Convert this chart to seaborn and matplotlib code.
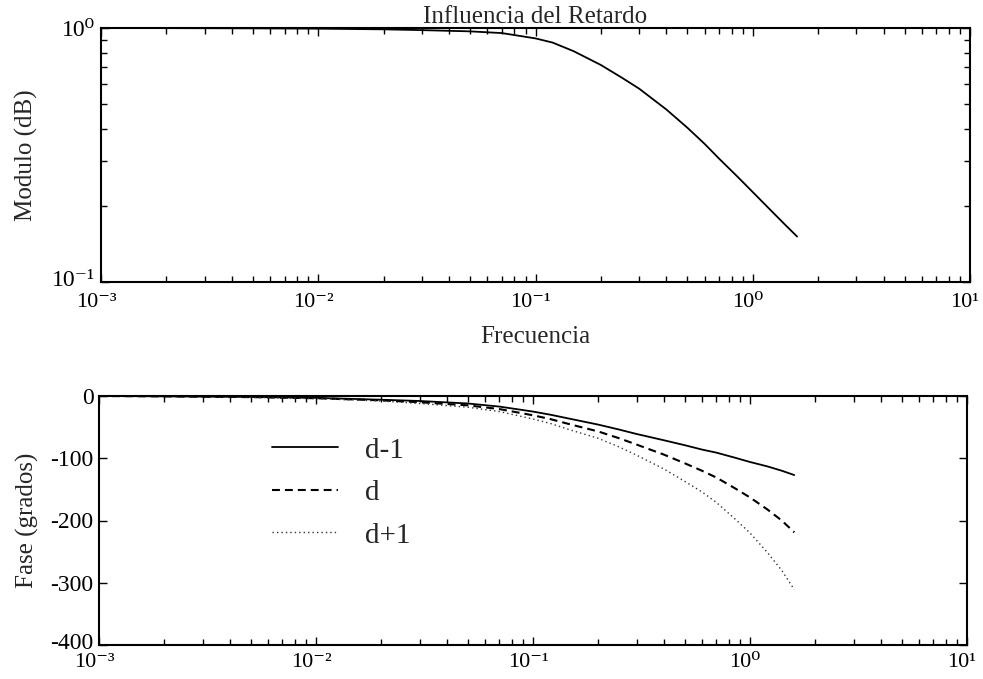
import matplotlib
matplotlib.use("Agg")
import matplotlib.pyplot as plt
import matplotlib.transforms as mtransforms
import numpy as np
import pandas as pd
import seaborn as sns
from matplotlib.ticker import LogLocator, NullFormatter, FixedLocator, FuncFormatter

# ---- data ----
freq = [0.001, 0.002, 0.005, 0.01, 0.02, 0.03, 0.05, 0.07, 0.1, 0.12, 0.15, 0.2,
        0.25, 0.3, 0.4, 0.5, 0.6, 0.7, 0.85, 1.0, 1.2, 1.4, 1.6]
modulo = [1.0, 0.999, 0.997, 0.994, 0.988, 0.981, 0.970, 0.955, 0.910, 0.876, 0.810, 0.715,
          0.637, 0.577, 0.478, 0.405, 0.350, 0.306, 0.260, 0.226, 0.193, 0.169, 0.151]
fase_dm1 = [0, -0.5, -1.5, -3, -6, -8, -12, -17, -25, -30, -37, -46,
            -54, -61, -71, -79, -86, -91, -99, -106, -113, -120, -127]
fase_d = [0, -0.6, -1.8, -3.6, -7, -10, -15, -21, -31, -37, -46, -57,
          -68, -78, -94, -108, -120, -131, -148, -163, -182, -200, -219]
fase_dp1 = [0, -0.7, -2.1, -4.2, -8, -12, -18, -25, -37, -44, -55, -68,
            -82, -95, -117, -137, -154, -171, -197, -220, -251, -280, -311]
series = ["d-1", "d", "d+1"]
fase_ticks = [0, -100, -200, -300, -400]

sns.set_theme(style="ticks")
plt.rcParams["font.family"] = ["Liberation Serif", "DejaVu Serif"]
plt.rcParams["axes.unicode_minus"] = False

SUP = str.maketrans("-0123456789", "⁻⁰¹²³⁴⁵⁶⁷⁸⁹")


def pow10(v, pos):
    if v <= 0:
        return ""
    e = int(round(np.log10(v)))
    return "10" + str(e).translate(SUP)


fig = plt.figure(figsize=(9.83, 6.79), dpi=100)
ax1 = fig.add_axes([101 / 983, 1 - 282 / 679, 869 / 983, 254 / 679])
ax2 = fig.add_axes([99 / 983, 1 - 645 / 679, 868 / 983, 249 / 679])

df_mag = pd.DataFrame({"freq": freq, "modulo": modulo})
sns.lineplot(data=df_mag, x="freq", y="modulo", ax=ax1, color="black", lw=1.3)
ax1.set_xscale("log")
ax1.set_yscale("log")
ax1.set_xlim(1e-3, 10)
ax1.set_ylim(0.1, 1)
ax1.set_title("Influencia del Retardo", fontsize=18, pad=2)
ax1.set_xlabel("Frecuencia", fontsize=18, labelpad=10)
ax1.set_ylabel("Modulo (dB)", fontsize=18, labelpad=10)

df_fase = pd.DataFrame({"freq": freq, "d-1": fase_dm1, "d": fase_d, "d+1": fase_dp1})
styles = {"d-1": dict(ls="-", lw=1.3, color="black"),
          "d": dict(ls=(0, (3.8, 2.4)), lw=1.5, color="black"),
          "d+1": dict(ls=(0, (1, 2.2)), lw=1.0, color="#333333")}
for s in series:
    sns.lineplot(data=df_fase, x="freq", y=s, ax=ax2, label=s, **styles[s])
ax2.set_xscale("log")
ax2.set_xlim(1e-3, 10)
ax2.set_ylim(-400, 0)
ax2.yaxis.set_major_locator(FixedLocator(fase_ticks))
ax2.set_xlabel("")
ax2.set_ylabel("Fase (grados)", fontsize=18, labelpad=8)

leg = ax2.legend(loc="upper left", bbox_to_anchor=(0.169, 0.94), frameon=False,
                 fontsize=21, handlelength=2.26, handletextpad=0.92, labelspacing=0.55)

shift = mtransforms.ScaledTranslation(-5 / 100, 0, fig.dpi_scale_trans)
for ax, xpad in ((ax1, 8), (ax2, 6)):
    ax.xaxis.set_major_locator(LogLocator(base=10, numticks=10))
    ax.xaxis.set_major_formatter(FuncFormatter(pow10))
    ax.xaxis.set_minor_locator(LogLocator(base=10, subs=np.arange(2, 10), numticks=20))
    ax.xaxis.set_minor_formatter(NullFormatter())
    ax.tick_params(which="both", direction="in", top=True, right=True, colors="black",
                   labelsize=17, width=1.0)
    ax.tick_params(which="major", length=6, pad=4)
    ax.tick_params(axis="x", which="major", pad=xpad, labelsize=16)
    ax.tick_params(which="minor", length=4)
    for sp in ax.spines.values():
        sp.set_visible(True)
        sp.set_linewidth(1.5)
        sp.set_color("black")
    ax.grid(False)
    for lab in ax.get_xticklabels():
        lab.set_transform(lab.get_transform() + shift)
ax1.yaxis.set_major_formatter(FuncFormatter(pow10))
ax1.yaxis.set_minor_formatter(NullFormatter())

# lift the lowest y labels a little so they clear the x labels below
up = mtransforms.ScaledTranslation(0, 4 / 100, fig.dpi_scale_trans)
for ax in (ax1, ax2):
    ticks = ax.yaxis.get_major_ticks()
    locs = ax.yaxis.get_majorticklocs()
    lo = ax.get_ylim()[0]
    for t, v in zip(ticks, locs):
        if np.isclose(v, lo):
            t.label1.set_transform(t.label1.get_transform() + up)

fig.savefig("out.png", dpi=100)
